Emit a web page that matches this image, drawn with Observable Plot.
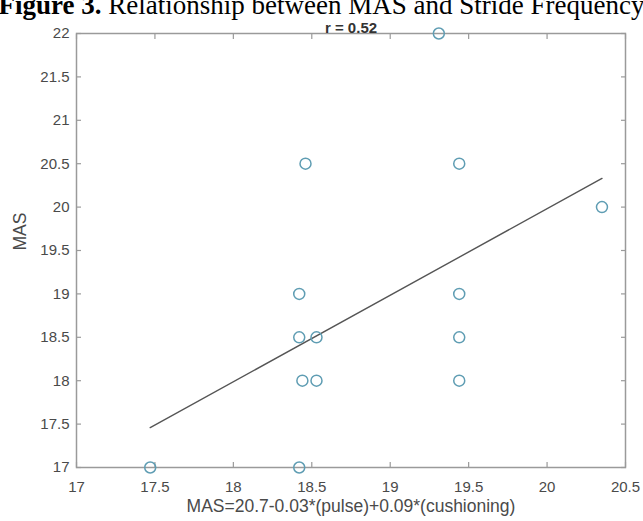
<!DOCTYPE html>
<html>
<head>
<meta charset="utf-8">
<script src="https://cdn.jsdelivr.net/npm/d3@7"></script>
<script src="https://cdn.jsdelivr.net/npm/@observablehq/plot@0.6"></script>
<style>
  html, body { margin: 0; padding: 0; background: #fff; overflow: hidden; }
  #wrap { position: relative; width: 643px; height: 521px; }
  #title { position: absolute; left: -2px; top: -10px; width: 647px; text-align: center;
           font-family: "Liberation Serif", "DejaVu Serif", serif; font-size: 27px; line-height: 30px; white-space: nowrap; color: #000; }
  #chart { position: absolute; left: 0; top: 0; }
</style>
</head>
<body>
<div id="wrap">
  <div id="chart"></div>
  <div id="title"><b>Figure 3.</b> Relationship between MAS and Stride Frequency</div>
</div>
<script>
// Predicted MAS (x) and observed MAS (y)
const predicted = [17.47, 18.42, 18.42, 18.42, 18.53, 18.44, 18.53, 18.46, 19.31, 19.44, 19.44, 19.44, 19.44, 20.35];
const observed  = [17.0,  17.0,  19.0,  18.5,  18.5,  18.0,  18.0,  20.5,  22.0,  20.5,  19.0,  18.5,  18.0,  20.0];
// Fitted line endpoints
const fitX = [17.47, 20.35];
const fitY = [17.46, 20.33];
const xTicks = [17, 17.5, 18, 18.5, 19, 19.5, 20, 20.5];
const yTicks = [17, 17.5, 18, 18.5, 19, 19.5, 20, 20.5, 21, 21.5, 22];
const title = "r = 0.52";
const xLabel = "MAS=20.7-0.03*(pulse)+0.09*(cushioning)";
const yLabel = "MAS";

const points = predicted.map((x, i) => ({x, y: observed[i]}));
const fit = fitX.map((x, i) => ({x, y: fitY[i]}));

const axisColor = "#9a9a9a";
const textColor = "#4a4a4a";

const chart = Plot.plot({
  width: 643,
  height: 521,
  marginLeft: 76,
  marginRight: 18,
  marginTop: 33,
  marginBottom: 54,
  style: {fontFamily: "Liberation Sans, Arial, sans-serif", fontSize: "15px", background: "#fff"},
  x: {domain: [17, 20.5], ticks: xTicks},
  y: {domain: [17, 22], ticks: yTicks},
  marks: [
    Plot.frame({stroke: axisColor, strokeWidth: 1.5}),
    Plot.axisX(xTicks, {anchor: "bottom", tickSize: -5, stroke: axisColor, strokeWidth: 1.2, tickPadding: 19, fill: textColor, fontSize: 15, label: null, tickFormat: d => String(d)}),
    Plot.axisX(xTicks, {anchor: "top", tickSize: -5, stroke: axisColor, strokeWidth: 1.2, tickFormat: () => "", label: null}),
    Plot.axisY(yTicks, {anchor: "left", tickSize: -5, stroke: axisColor, strokeWidth: 1.2, tickPadding: 12, fill: textColor, fontSize: 15, label: null, tickFormat: d => String(d)}),
    Plot.axisY(yTicks, {anchor: "right", tickSize: -5, stroke: axisColor, strokeWidth: 1.2, tickFormat: () => "", label: null}),
    Plot.line(fit, {x: "x", y: "y", stroke: "#555", strokeWidth: 1.4}),
    Plot.dot(points, {x: "x", y: "y", r: 5.5, stroke: "#5f9db3", strokeWidth: 1.5, fill: "none"}),
    Plot.text([title], {frameAnchor: "top", dy: -11, text: d => d, fontWeight: "bold", fontSize: 15, fill: "#333"}),
    Plot.text([yLabel], {frameAnchor: "left", dx: -56, rotate: -90, text: d => d, fontSize: 17.5, fill: textColor}),
    Plot.text([xLabel], {frameAnchor: "bottom", dy: 44, text: d => d, fontSize: 17.5, fill: textColor})
  ]
});
document.getElementById("chart").appendChild(chart);
</script>
</body>
</html>
